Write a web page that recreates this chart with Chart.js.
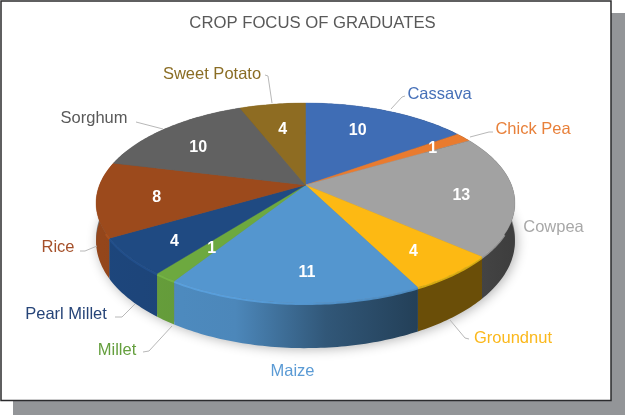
<!DOCTYPE html>
<html>
<head>
<meta charset="utf-8">
<style>
html,body{margin:0;padding:0;background:#fff;}
#wrap{position:absolute;left:0;top:0;width:625px;height:415px;}
</style>
<script src="https://cdn.jsdelivr.net/npm/chart.js@4/dist/chart.umd.min.js"></script>
</head>
<body>
<div id="wrap"><canvas id="c" width="625" height="415"></canvas></div>
<script>
const categories = ["Cassava","Chick Pea","Cowpea","Groundnut","Maize","Millet","Pearl Millet","Rice","Sorghum","Sweet Potato"];
const graduates = [10,1,13,4,11,1,4,8,10,4];
const sliceColors = ["#3F6DB5","#E97B2F","#A2A2A2","#FDB913","#5496CF","#6DA93F","#1F4A82","#9C4A1C","#616161","#8E6C22"];
const nameColors = ["#4670B8","#E8803A","#A8A8A8","#FBB81C","#5B9BD5","#659F3E","#264478","#A5502A","#595959","#8A6D24"];
const chartTitle = "CROP FOCUS OF GRADUATES";

// Layout of the hand-placed outer labels (centre x, centre y) and their leader lines
const namePlaces = [[439.5,94.5],[533,129],[553.5,227],[513,338],[292.5,371.5],[117,350],[66,314],[58,247],[94,118],[212,74]];
const leaders = [
 [[391,109],[402,97],[405,96]],
 [[470,137],[489,132],[493,132]],
 null,
 [[450,320],[465,338],[469,339]],
 null,
 [[172,326],[149,351],[143,352]],
 [[135,304],[122,317],[115,317]],
 [[97,246],[85,251],[80,251]],
 [[136,122],[163,129]],
 [[265,75],[268,76],[272,103]]
];
const valueNudges = [[-11,0],[6,-3],[0,1],[1,0],[10,1],[7,-6],[-3,1],[7,-1],[0,3],[3,4]];

// Perspective of the tilted disc
const OFFSET_X = -7, SX = 1.648, SY = 0.774, K = 0.18, DEPTH = 0.296, LABEL_R = 0.75;
function project(el, ang, r){
  const u = Math.cos(ang)*r, v = Math.sin(ang)*r, w = 1 - K*v, R = el.outerRadius;
  return {x: el.x + OFFSET_X + R*SX*u/w, y: el.y + R*SY*v/w, d: R*DEPTH/w, v};
}
function arcPoints(el){
  const n = Math.max(4, Math.ceil((el.endAngle-el.startAngle)*60)), pts=[];
  for(let i=0;i<=n;i++) pts.push(project(el, el.startAngle+(el.endAngle-el.startAngle)*i/n, 1));
  return pts;
}
function shade(hex,f){
  const n=parseInt(hex.slice(1),16);
  const c=[n>>16,(n>>8)&255,n&255].map(x=>Math.min(255,Math.round(x*f)));
  return `rgb(${c[0]},${c[1]},${c[2]})`;
}
function sideGradient(ctx,hex,el){
  const R=el.outerRadius*SX, x0=el.x+OFFSET_X-R, x1=el.x+OFFSET_X+R;
  const g=ctx.createLinearGradient(x0,0,x1,0);
  [[0,.95],[.2,.92],[.33,.9],[.55,.58],[.78,.42],[.92,.42],[1,.38]].forEach(s=>g.addColorStop(s[0],shade(hex,s[1])));
  return g;
}

const pie3d = {
  id:'pie3d',
  beforeDraw(chart){
    const c=chart.ctx;
    c.save();
    c.fillStyle='#939598';
    c.fillRect(13,13,612,402);
    c.fillStyle='#ffffff';
    c.fillRect(1,1,610,399.5);
    c.strokeStyle='#2b2b2d';
    c.lineWidth=1.5;
    c.strokeRect(1,1,610,399.5);
    c.restore();
  },
  beforeDatasetDraw(chart){
    const c=chart.ctx, arcs=chart.getDatasetMeta(0).data;
    const colors=chart.data.datasets[0].backgroundColor;
    // soft ground shadow
    c.save();
    c.shadowColor='rgba(0,0,0,0.3)'; c.shadowBlur=12; c.shadowOffsetY=4; c.shadowOffsetX=2;
    c.fillStyle='#777';
    c.beginPath();
    arcs.forEach(el=>arcPoints(el).forEach(p=>c.lineTo(p.x,p.y+p.d-3)));
    c.closePath(); c.fill();
    c.restore();
    // side walls, back to front
    const order=arcs.map((el,i)=>i).sort((a,b)=>{
      const m=e=>Math.sin((e.startAngle+e.endAngle)/2);
      return m(arcs[a])-m(arcs[b]);
    });
    order.forEach(i=>{
      const el=arcs[i], pts=arcPoints(el);
      c.beginPath();
      pts.forEach((p,k)=>k?c.lineTo(p.x,p.y):c.moveTo(p.x,p.y));
      pts.slice().reverse().forEach(p=>c.lineTo(p.x,p.y+p.d));
      c.closePath();
      c.fillStyle=sideGradient(c,colors[i],el);
      c.fill();
    });
    // top faces
    arcs.forEach((el,i)=>{
      const pts=arcPoints(el);
      c.beginPath();
      c.moveTo(el.x+OFFSET_X,el.y);
      pts.forEach(p=>c.lineTo(p.x,p.y));
      c.closePath();
      c.fillStyle=colors[i];
      c.fill();
      c.strokeStyle=colors[i]; c.lineWidth=0.4; c.stroke();
    });
    // light rim on the front edge
    arcs.forEach((el,i)=>{
      const pts=arcPoints(el).filter(p=>p.v>0.45);
      if(pts.length<2) return;
      c.beginPath();
      pts.forEach((p,k)=>k?c.lineTo(p.x,p.y+1):c.moveTo(p.x,p.y+1));
      c.strokeStyle=shade(colors[i],1.12); c.globalAlpha=.7; c.lineWidth=2; c.stroke();
      c.globalAlpha=1;
    });
    // values on slices
    c.save();
    c.font='bold 16px "Liberation Sans", Arial, sans-serif';
    c.fillStyle='#fff'; c.textAlign='center'; c.textBaseline='middle';
    arcs.forEach((el,i)=>{
      const p=project(el,(el.startAngle+el.endAngle)/2,LABEL_R);
      c.fillText(String(graduates[i]),p.x+valueNudges[i][0],p.y+3+valueNudges[i][1]);
    });
    c.restore();
    // leaders and names
    c.save();
    c.strokeStyle='#b8b8b8'; c.lineWidth=1;
    leaders.forEach(l=>{
      if(!l) return;
      c.beginPath();
      l.forEach((p,k)=>k?c.lineTo(p[0],p[1]):c.moveTo(p[0],p[1]));
      c.stroke();
    });
    c.font='16.5px "Liberation Sans", Arial, sans-serif';
    c.textAlign='center'; c.textBaseline='middle';
    categories.forEach((n,i)=>{
      c.fillStyle=nameColors[i];
      c.fillText(n,namePlaces[i][0],namePlaces[i][1]);
    });
    c.restore();
    return false;
  }
};

new Chart(document.getElementById('c'),{
  type:'pie',
  data:{labels:categories,datasets:[{data:graduates,backgroundColor:sliceColors,borderWidth:0}]},
  options:{
    responsive:false,
    animation:false,
    events:[],
    layout:{padding:{left:187.5,right:187.5,top:0,bottom:78}},
    plugins:{
      legend:{display:false},
      tooltip:{enabled:false},
      title:{display:true,text:chartTitle,color:'#595959',
        font:{family:'"Liberation Sans", Arial, sans-serif',size:16.7,weight:'normal'},
        padding:{top:13,bottom:0}}
    }
  },
  plugins:[pie3d]
});
</script>
</body>
</html>
